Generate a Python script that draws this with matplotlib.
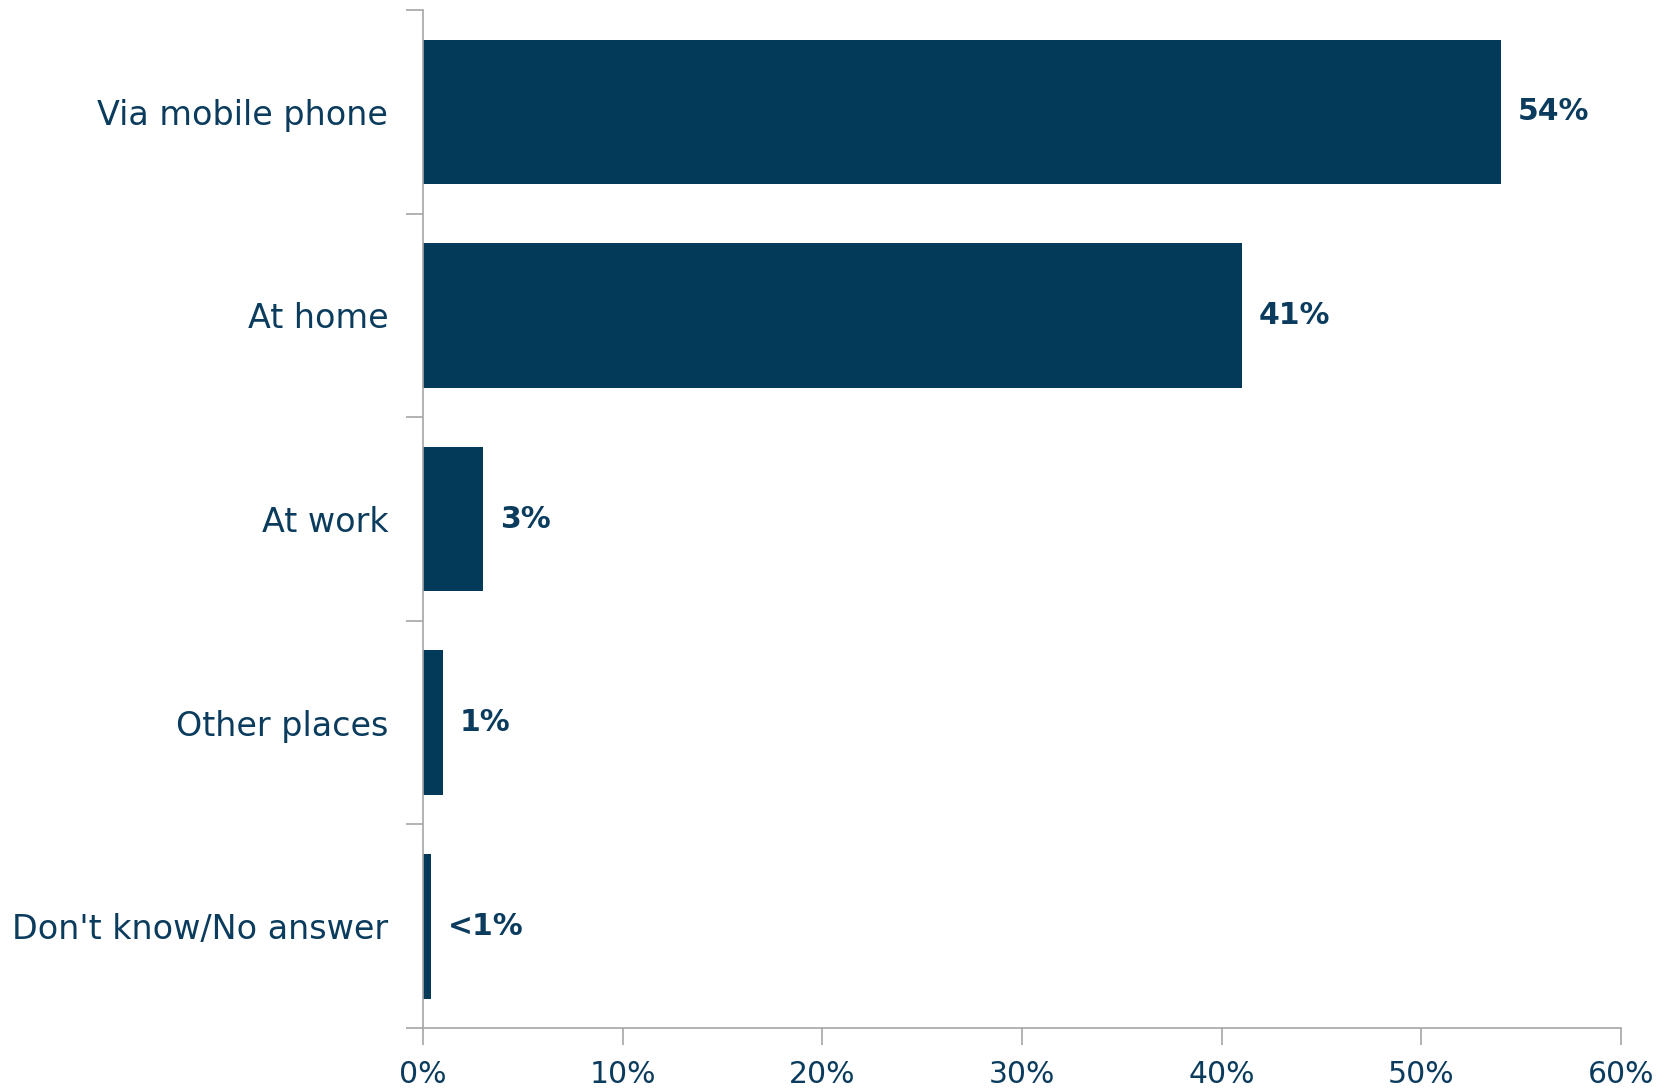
import matplotlib.pyplot as plt
import numpy as np

# данные
categories = ['Via mobile phone', 'At home', 'At work', 'Other places', "Don't know/No answer"]
values = [54, 41, 3, 1, 0.4]
value_labels = ['54%', '41%', '3%', '1%', '<1%']
x_ticks = [0, 10, 20, 30, 40, 50, 60]

bar_color = '#033A5A'
text_color = '#0B3C5D'
axis_color = '#A6A6A6'

fig = plt.figure(figsize=(16.7, 10.91), dpi=100)
ax = fig.add_axes([0.2533, 0.0577, 0.7174, 0.9331])

y = np.arange(len(categories))
ax.barh(y, values, height=0.71, color=bar_color)

ax.set_xlim(0, 60)
ax.set_ylim(len(categories) - 0.5, -0.5)

for yi, v, lab in zip(y, values, value_labels):
    ax.text(v + 0.85, yi, lab, va='center', ha='left', fontsize=21.5,
            fontweight='bold', color=text_color)

# оси в стиле Excel
ax.set_yticks(np.arange(-0.5, len(categories), 1.0))
ax.set_yticklabels([])
ax.set_yticks(y, minor=True)
ax.set_yticklabels(categories, minor=True, fontsize=24, color=text_color)
ax.tick_params(axis='y', which='minor', length=0, pad=25)
ax.tick_params(axis='y', which='major', length=12, width=1.2, color=axis_color)

ax.set_xticks(x_ticks)
ax.set_xticklabels([f'{t}%' for t in x_ticks], fontsize=21.5, color=text_color)
ax.tick_params(axis='x', length=12, width=1.2, color=axis_color, pad=11)

for s in ['top', 'right']:
    ax.spines[s].set_visible(False)
for s in ['left', 'bottom']:
    ax.spines[s].set_color(axis_color)
    ax.spines[s].set_linewidth(1.2)

fig.savefig('out.png', dpi=100)
